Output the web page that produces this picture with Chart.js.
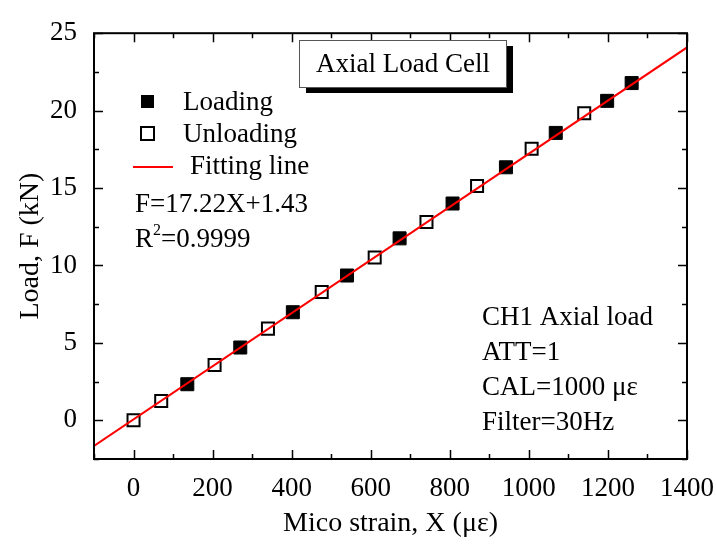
<!DOCTYPE html>
<html>
<head>
<meta charset="utf-8">
<script src="https://cdn.jsdelivr.net/npm/chart.js@4"></script>
<style>
  html, body { margin: 0; padding: 0; background: #fff; }
  #wrap { width: 716px; height: 550px; }
</style>
</head>
<body>
<div id="wrap"><canvas id="chart" width="716" height="550"></canvas></div>
<script>
// values
const loadingStrain   = [136, 270, 403, 540, 673, 807, 942, 1068, 1198, 1260];
const loadingForce    = [2.33, 4.70, 6.98, 9.35, 11.75, 14.0, 16.34, 18.56, 20.63, 21.78];
const unloadingStrain = [0, 70, 205, 340, 476, 610, 741, 869, 1007, 1140];
const unloadingForce  = [0, 1.25, 3.57, 5.92, 8.28, 10.52, 12.8, 15.13, 17.54, 19.83];
const fitStrain       = [-100, 1400];
const fitForce        = [-1.65, 24.08];

const xRange = [-100, 1400];
const yRange = [-2.5, 25];
const xLabelStep = 200;
const yLabelStep = 5;

const seriesNames = ['Loading', 'Unloading', 'Fitting line'];
const fitText     = ['F=17.22X+1.43', '0.9999'];
const infoLines   = ['CH1 Axial load', 'ATT=1', 'CAL=1000 \u03bc\u03b5', 'Filter=30Hz'];
const titleText   = 'Axial Load Cell';

const FONT = '"Liberation Serif", "Times New Roman", serif';

const toPoints = (xs, ys) => xs.map((x, i) => ({ x, y: ys[i] }));

const decorations = {
  id: 'decorations',
  afterDraw(chart) {
    const { ctx, chartArea: a, scales } = chart;
    const x = scales.x, y = scales.y;
    ctx.save();

    // frame
    ctx.strokeStyle = '#000';
    ctx.lineWidth = 2;
    ctx.strokeRect(a.left, a.top, a.right - a.left, a.bottom - a.top);

    // inward ticks on all four sides
    ctx.lineWidth = 1.5;
    ctx.beginPath();
    x.ticks.forEach(t => {
      const px = Math.round(x.getPixelForValue(t.value)) + 0.5;
      const len = (t.value % xLabelStep === 0) ? 9 : 5;
      ctx.moveTo(px, a.bottom); ctx.lineTo(px, a.bottom - len);
      ctx.moveTo(px, a.top);    ctx.lineTo(px, a.top + len);
    });
    y.ticks.forEach(t => {
      const py = Math.round(y.getPixelForValue(t.value)) + 0.5;
      const len = (t.value % yLabelStep === 0) ? 9 : 5;
      ctx.moveTo(a.left, py);  ctx.lineTo(a.left + len, py);
      ctx.moveTo(a.right, py); ctx.lineTo(a.right - len, py);
    });
    ctx.stroke();

    ctx.fillStyle = '#000';
    ctx.textBaseline = 'middle';
    ctx.font = '27px ' + FONT;

    // title box with shadow
    ctx.fillRect(306, 46, 207, 47);
    ctx.fillStyle = '#fff';
    ctx.fillRect(299, 40, 207, 47);
    ctx.strokeStyle = '#555';
    ctx.lineWidth = 1;
    ctx.strokeRect(299.5, 40.5, 207, 47);
    ctx.fillStyle = '#000';
    ctx.textAlign = 'center';
    ctx.fillText(titleText, 403, 65);

    // legend
    ctx.textAlign = 'left';
    ctx.fillRect(141, 95, 13, 13);
    ctx.fillText(seriesNames[0], 183, 103);
    ctx.fillStyle = '#fff';
    ctx.fillRect(141, 127, 13, 13);
    ctx.strokeStyle = '#000';
    ctx.lineWidth = 2;
    ctx.strokeRect(141, 127, 13, 13);
    ctx.fillStyle = '#000';
    ctx.fillText(seriesNames[1], 183, 135);
    ctx.strokeStyle = '#ff0000';
    ctx.beginPath();
    ctx.moveTo(133, 167); ctx.lineTo(173, 167);
    ctx.stroke();
    ctx.fillText(seriesNames[2], 190, 167);

    ctx.fillText(fitText[0], 135, 205);
    ctx.fillText('R', 135, 240);
    const rw = ctx.measureText('R').width;
    ctx.font = '16px ' + FONT;
    ctx.fillText('2', 135 + rw, 231);
    const sw = ctx.measureText('2').width;
    ctx.font = '27px ' + FONT;
    ctx.fillText('=' + fitText[1], 135 + rw + sw, 240);

    // info block
    infoLines.forEach((s, i) => ctx.fillText(s, 482, 318 + i * 35));

    ctx.restore();
  }
};

new Chart(document.getElementById('chart'), {
  type: 'scatter',
  data: {
    datasets: [
      {
        type: 'line',
        label: seriesNames[2],
        data: toPoints(fitStrain, fitForce),
        borderColor: '#ff0000',
        borderWidth: 2,
        pointRadius: 0,
        fill: false,
        order: 0
      },
      {
        label: seriesNames[0],
        data: toPoints(loadingStrain, loadingForce),
        pointStyle: 'rect',
        pointRadius: 9.2,
        backgroundColor: '#000',
        borderColor: '#000',
        borderWidth: 1,
        order: 1
      },
      {
        label: seriesNames[1],
        data: toPoints(unloadingStrain, unloadingForce),
        pointStyle: 'rect',
        pointRadius: 8.5,
        backgroundColor: '#fff',
        borderColor: '#000',
        borderWidth: 2,
        order: 2
      }
    ]
  },
  options: {
    responsive: false,
    animation: false,
    layout: { padding: { top: 25, right: 0, left: 0, bottom: 0 } },
    plugins: { legend: { display: false }, tooltip: { enabled: false } },
    scales: {
      x: {
        type: 'linear',
        min: xRange[0], max: xRange[1],
        afterFit: s => { s.height = 91; s.paddingRight = 29; },
        grid: { display: false, drawTicks: false },
        border: { display: false },
        ticks: {
          stepSize: 100,
          padding: 14,
          color: '#000',
          font: { family: FONT, size: 27 },
          maxRotation: 0,
          autoSkip: false,
          callback: v => (v % xLabelStep === 0 ? String(v) : '')
        },
        title: {
          display: true,
          text: 'Mico strain, X (\u03bc\u03b5)',
          color: '#000',
          font: { family: FONT, size: 28 },
          padding: { top: 0, bottom: 10 }
        }
      },
      y: {
        type: 'linear',
        min: yRange[0], max: yRange[1],
        afterFit: s => { s.width = 94; },
        grid: { display: false, drawTicks: false },
        border: { display: false },
        ticks: {
          stepSize: 2.5,
          padding: 17,
          color: '#000',
          font: { family: FONT, size: 27 },
          autoSkip: false,
          callback: v => (v % yLabelStep === 0 ? String(v) : '')
        },
        title: {
          display: true,
          text: 'Load, F (kN)',
          color: '#000',
          font: { family: FONT, size: 28 },
          padding: { top: 14, bottom: 0 }
        }
      }
    }
  },
  plugins: [decorations]
});
</script>
</body>
</html>
